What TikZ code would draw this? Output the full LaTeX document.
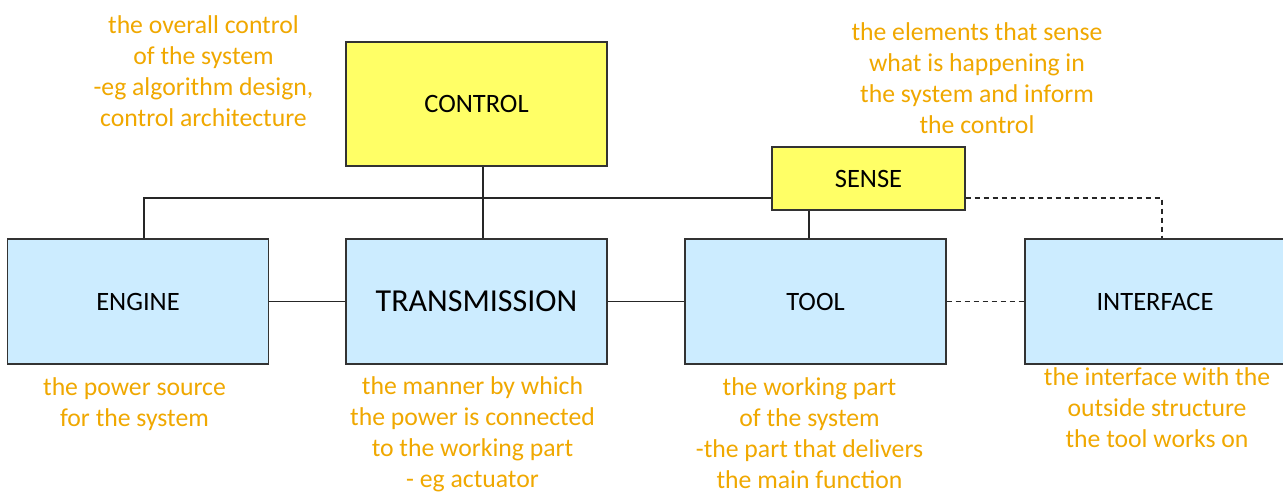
\documentclass[tikz,border=0pt]{standalone}
\usepackage{fontspec}
\setmainfont{Carlito}
\definecolor{ctlyellow}{RGB}{255,255,102}
\definecolor{partblue}{RGB}{204,236,255}
\definecolor{noteorange}{RGB}{240,168,0}
\begin{document}
\begin{tikzpicture}[x=1pt,y=-1pt,
  box/.style={draw=black!80, line width=1.3pt, inner sep=0pt, font=\fontsize{26.5}{31}\selectfont},
  yel/.style={box, fill=ctlyellow},
  blu/.style={box, fill=partblue, minimum width=261pt, minimum height=125pt},
  note/.style={text=noteorange, align=center, font=\fontsize{25.7}{31}\selectfont, inner sep=0pt},
  link/.style={line width=1.3pt, draw=black!85},
  dlink/.style={link, dash pattern=on 5pt off 4pt}]
\useasboundingbox (0,0) rectangle (1283,492);
\clip (0,0) rectangle (1283,492);
\fill[white] (0,0) rectangle (1283,492);

\node[yel, minimum width=261pt, minimum height=124pt] (control) at (476.5,104) {CONTROL};
\node[yel, minimum width=193pt, minimum height=63pt] (sense) at (868.5,178.5) {SENSE};
\node[blu] (engine) at (138,301.5) {ENGINE};
\node[blu, font=\fontsize{32}{38}\selectfont] (trans) at (476.5,301.5) {TRANSMISSION};
\node[blu] (tool) at (815.5,301.5) {TOOL};
\node[blu, minimum width=260pt] (iface) at (1155,301.5) {INTERFACE};

\draw[link] ([xshift=6.5pt]control.south) -- ([xshift=6.5pt]trans.north);
\coordinate (busL) at ([xshift=6pt]engine.north);
\draw[link] (busL) |- ([yshift=-19.5pt]sense.west);
\draw[link] ([xshift=-59.5pt]sense.south) -- ([xshift=-59.5pt]sense.south |- tool.north);
\draw[dlink] ([yshift=-19.5pt]sense.east) -| ([xshift=7pt]iface.north);
\draw[link] (engine.east) -- (trans.west);
\draw[link] (trans.east) -- (tool.west);
\draw[dlink] (tool.east) -- (iface.west);

\node[note] (ncontrol) at (203.5,71) {the overall control\\of the system\\-eg algorithm design,\\control architecture};
\node[note] (nsense) at (977,78) {the elements that sense\\what is happening in\\the system and inform\\the control};
\node[note] (nengine) at (134.5,404) {the power source\\for the system};
\node[note] (ntrans) at (472.5,434.5) {the manner by which\\the power is connected\\to the working part\\- eg actuator};
\node[note] (ntool) at (809.5,433.5) {the working part\\of the system\\-the part that delivers\\the main function};
\node[note] (niface) at (1157,407.5) {the interface with the\\outside structure\\the tool works on};
\end{tikzpicture}
\end{document}
